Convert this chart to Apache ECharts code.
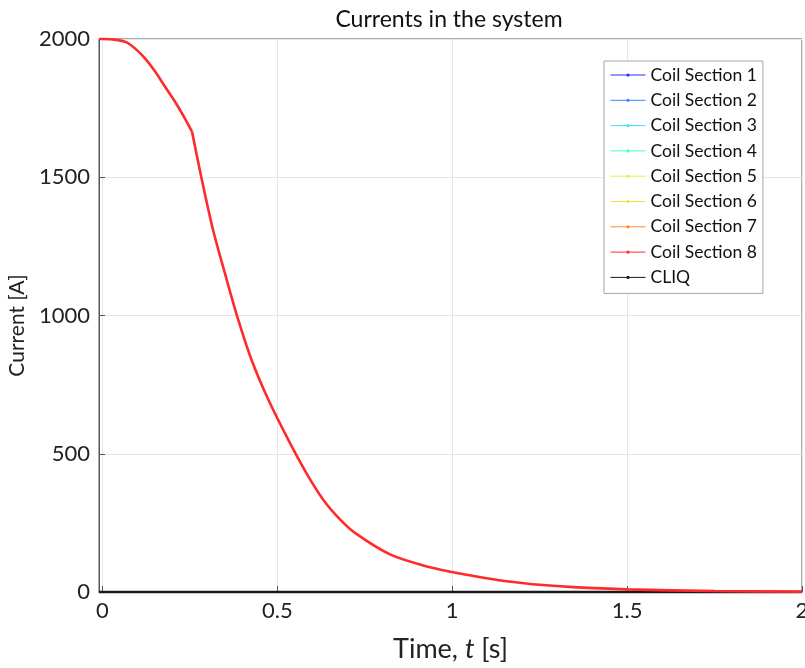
<!DOCTYPE html>
<html>
<head>
<meta charset="utf-8">
<script src="https://cdn.jsdelivr.net/npm/echarts@6/dist/echarts.min.js"></script>
<style>html,body{margin:0;padding:0;background:#fff}#c{width:805px;height:668px}</style>
</head>
<body>
<div id="c"></div>
<script>
// Data
// Coil Section 8: plateau / first discharge phase up to the kink at t≈0.256 s
const timeEarly = [-0.01, 0, 0.045, 0.069, 0.092, 0.121, 0.150, 0.178, 0.207, 0.235, 0.256];
const coil8Early = [2000, 2000, 1996, 1988, 1967, 1931, 1883, 1829, 1774, 1714, 1665];
// Coil Section 8: exponential-like decay after the kink
const timeLate = [0.256, 0.283, 0.316, 0.355, 0.388, 0.426, 0.474, 0.531, 0.583, 0.631, 0.679, 0.726, 0.822, 0.917, 1.0, 1.06, 1.108, 1.155, 1.25, 1.346, 1.5, 1.75, 2.0];
const coil8Late = [1665, 1497, 1310, 1130, 985, 840, 696, 551, 430, 334, 263, 210, 136, 96, 72, 58, 48, 39, 26, 17.5, 9.5, 3.5, 1.2];
// CLIQ current stays at zero over the whole time window
const cliqTime = [-0.01, 2.0];
const cliqCurrent = [0, 0];
const seriesNames = ['Coil Section 1','Coil Section 2','Coil Section 3','Coil Section 4','Coil Section 5','Coil Section 6','Coil Section 7','Coil Section 8','CLIQ'];
const seriesColors = ['#2b2bff','#3a86ff','#3fdcff','#45ffc8','#c8ff45','#ffdc3f','#ff8a3a','#ff2a2a','#1a1a1a'];
const xTicks = [0, 0.5, 1, 1.5, 2];

const FONT = 'Lato';
const chart = echarts.init(document.getElementById('c'));

function mkSeries(name, color, xs, ys, z, smooth) {
  return {
    name: name,
    type: 'line',
    data: xs.map((t, k) => [t, ys[k]]),
    symbol: 'circle',
    symbolSize: 3,
    showSymbol: false,
    smooth: smooth,
    clip: false,
    z: z,
    lineStyle: { color: color, width: 2.6 },
    itemStyle: { color: color },
    emphasis: { disabled: true },
    animation: false
  };
}

const series = [];
seriesNames.forEach((name, i) => {
  if (i === 7) {
    series.push(mkSeries(name, seriesColors[i], timeEarly, coil8Early, 10, 0.3));
    series.push(mkSeries(name, seriesColors[i], timeLate, coil8Late, 10, 0.3));
  } else if (i === 8) {
    series.push(mkSeries(name, seriesColors[i], cliqTime, cliqCurrent, 8, false));
  } else {
    // other coil sections lie underneath the plotted curves (not separately visible)
    series.push(mkSeries(name, seriesColors[i], [], [], 3, false));
  }
});

const option = {
  animation: false,
  title: {
    text: 'Currents in the system',
    left: 444, textAlign: 'center', top: 3,
    textStyle: { fontFamily: FONT, fontSize: 23, fontWeight: 'normal', color: '#111' }
  },
  grid: { left: 99, top: 39, right: 3, bottom: 76, containLabel: false, outerBoundsMode: 'none',
          show: true, borderColor: '#555', borderWidth: 1, backgroundColor: 'transparent' },
  legend: {
    orient: 'vertical',
    left: 604, top: 61,
    padding: [4, 6, 6, 6],
    itemWidth: 35, itemHeight: 4, itemGap: 5.3,
    backgroundColor: '#fff',
    borderColor: '#a6a6a6', borderWidth: 1,
    lineStyle: { width: 1 },
    textStyle: { fontFamily: FONT, fontSize: 17.5, color: '#111', lineHeight: 20 },
    data: seriesNames
  },
  xAxis: {
    type: 'value', min: -0.01, max: 2,
    name: '{n|Time, }{i|t}{n| [s]}', nameLocation: 'middle', nameGap: 44,
    nameTextStyle: { rich: {
      n: { fontFamily: FONT, fontSize: 27, color: '#222' },
      i: { fontFamily: FONT, fontSize: 27, color: '#222', fontStyle: 'italic' } } },
    axisLine: { show: true, onZero: false, lineStyle: { color: '#555', width: 1 } },
    axisTick: { show: true, inside: true, length: 6, customValues: xTicks, lineStyle: { color: '#555' } },
    axisLabel: { customValues: xTicks, margin: 8, fontFamily: FONT, fontSize: 22, color: '#222',
                 formatter: v => String(v) },
    splitLine: { show: true, lineStyle: { color: '#e6e6e6', width: 1 } }
  },
  yAxis: {
    type: 'value', min: 0, max: 2000, interval: 500,
    name: 'Current [A]', nameLocation: 'middle', nameGap: 64, nameRotate: 90,
    nameTextStyle: { fontFamily: FONT, fontSize: 21, color: '#222', padding: [0, 20, 0, 0] },
    axisLine: { show: true, onZero: false, lineStyle: { color: '#555', width: 1 } },
    axisTick: { show: true, inside: true, length: 6, lineStyle: { color: '#555' } },
    axisLabel: { margin: 9, fontFamily: FONT, fontSize: 22, color: '#222',
                 formatter: v => String(v) },
    splitLine: { show: true, lineStyle: { color: '#e6e6e6', width: 1 } }
  },
  series: series
};
chart.setOption(option);
</script>
</body>
</html>
